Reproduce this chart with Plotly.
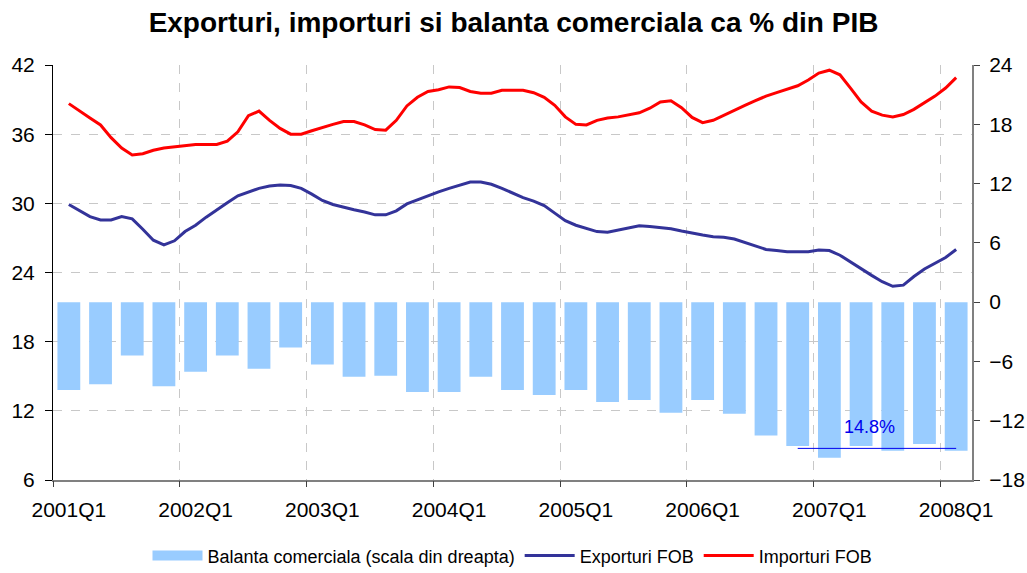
import plotly.graph_objects as go

# Quarterly categories
quarters = [f"{y}Q{q}" for y in range(2001, 2008) for q in range(1, 5)] + ["2008Q1"]
tick_labels = ["2001Q1", "2002Q1", "2003Q1", "2004Q1", "2005Q1", "2006Q1", "2007Q1", "2008Q1"]

# Trade balance (% of GDP, right scale), one bar per quarter
balanta = [-8.9, -8.3, -5.4, -8.5, -7.05, -5.4, -6.75, -4.6,
           -6.3, -7.55, -7.45, -9.1, -9.1, -7.55, -8.9, -9.4,
           -8.9, -10.1, -9.9, -11.2, -9.9, -11.3, -13.5, -14.55,
           -15.75, -14.55, -15.05, -14.35, -15.05]

# Monthly (rolling) series from Jan 2001 to Jan 2008, left scale
exporturi = [29.9, 29.4, 28.85, 28.55, 28.55, 28.85, 28.65, 27.75, 26.8, 26.4,
             26.75, 27.55, 28.1, 28.8, 29.45, 30.05, 30.65, 31.0, 31.3, 31.5,
             31.6, 31.55, 31.3, 30.8, 30.25, 29.9, 29.65, 29.45, 29.25, 29.0,
             29.0, 29.35, 29.95, 30.3, 30.7, 31.0, 31.3, 31.6, 31.85, 31.85,
             31.65, 31.3, 30.9, 30.5, 30.2, 29.8, 29.15, 28.5, 28.1, 27.8,
             27.55, 27.5, 27.7, 27.9, 28.05, 28.0, 27.9, 27.8, 27.6, 27.4,
             27.25, 27.1, 27.05, 26.9, 26.6, 26.35, 26.0, 25.9, 25.8, 25.8,
             25.8, 25.95, 25.9, 25.5, 24.9, 24.3, 23.75, 23.2, 22.8, 22.9,
             23.65, 24.3, 24.8, 25.3, 26.0]
importuri = [38.65, 38.0, 37.4, 36.8, 35.7, 34.8, 34.2, 34.3, 34.6, 34.8,
             34.9, 35.0, 35.1, 35.1, 35.1, 35.4, 36.2, 37.6, 38.0, 37.2,
             36.5, 36.0, 36.0, 36.3, 36.6, 36.85, 37.1, 37.1, 36.8, 36.4,
             36.35, 37.2, 38.45, 39.2, 39.7, 39.85, 40.1, 40.05, 39.7, 39.55,
             39.55, 39.8, 39.8, 39.8, 39.6, 39.2, 38.5, 37.5, 36.85, 36.8,
             37.2, 37.4, 37.5, 37.65, 37.85, 38.25, 38.8, 38.9, 38.3, 37.45,
             37.0, 37.2, 37.65, 38.1, 38.5, 38.9, 39.3, 39.6, 39.9, 40.2,
             40.7, 41.3, 41.55, 41.15, 40.0, 38.8, 38.0, 37.65, 37.5, 37.7,
             38.15, 38.7, 39.3, 40.0, 40.9]

deficit_mark = 14.8          # highlighted deficit level (% of GDP)
mark_from, mark_to = "2006Q4", "2008Q1"

qx = list(range(len(quarters)))
mx = [k / 3 for k in range(len(exporturi))]
x_mark = [quarters.index(mark_from), quarters.index(mark_to)]

FONT = "Liberation Sans, Arial, sans-serif"
BAR_COLOR = "#99CCFF"

fig = go.Figure()
fig.add_trace(go.Bar(
    x=qx, y=balanta, yaxis="y2", name="Balanta comerciala (scala din dreapta)",
    marker=dict(color=BAR_COLOR, line=dict(width=0)), width=0.72,
    hovertext=quarters, showlegend=False))
# legend entry for the bars (wide swatch like the original)
fig.add_trace(go.Scatter(
    x=[None], y=[None], yaxis="y2", mode="lines",
    name="Balanta comerciala (scala din dreapta)",
    line=dict(color=BAR_COLOR, width=16)))
fig.add_trace(go.Scatter(
    x=mx, y=exporturi, mode="lines", name="Exporturi FOB",
    line=dict(color="#333399", width=3)))
fig.add_trace(go.Scatter(
    x=mx, y=importuri, mode="lines", name="Importuri FOB",
    line=dict(color="#FF0000", width=3)))
fig.add_trace(go.Scatter(
    x=x_mark, y=[-deficit_mark] * 2, yaxis="y2", mode="lines",
    line=dict(color="#0000EE", width=1), showlegend=False, hoverinfo="skip"))
# invisible trace to host the boundary axis (ticks + vertical gridlines)
fig.add_trace(go.Scatter(x=[-0.5, 28.5], y=[None, None], xaxis="x2",
                         mode="lines", showlegend=False, hoverinfo="skip"))

fig.add_annotation(
    x=(x_mark[0] + x_mark[1]) / 2 - 0.25, y=-deficit_mark + 2.2, xref="x", yref="y2",
    text=f"{deficit_mark}%", showarrow=False,
    font=dict(family=FONT, size=18, color="#0000EE"))

fig.update_layout(
    width=1027, height=573,
    paper_bgcolor="white", plot_bgcolor="white",
    margin=dict(l=53, r=55, t=65, b=93, autoexpand=False),
    title=dict(text="<b>Exporturi, importuri si balanta comerciala ca % din PIB</b>",
               x=0.5, xanchor="center", y=0.962, yanchor="middle",
               font=dict(family=FONT, size=28, color="black")),
    font=dict(family=FONT, size=21, color="black"),
    showlegend=True,
    legend=dict(orientation="h", x=0.5, xanchor="center", yref="container",
                y=0.03, yanchor="middle", font=dict(family=FONT, size=18),
                itemwidth=50, tracegroupgap=0, traceorder="normal"),
    xaxis=dict(range=[-0.5, 28.5], tickmode="array", automargin=False,
               tickvals=[quarters.index(t) for t in tick_labels], ticktext=tick_labels,
               ticks="", showgrid=False, zeroline=False, ticklabelstandoff=10,
               showline=True, linecolor="#808080", linewidth=2,
               tickfont=dict(family=FONT, size=21)),
    xaxis2=dict(range=[-0.5, 28.5], overlaying="x", anchor="y", side="bottom",
                tickmode="array", automargin=False,
                tickvals=[quarters.index(t) - 0.5 for t in tick_labels],
                showticklabels=False, ticks="outside", ticklen=6, tickcolor="#404040",
                showgrid=True, gridcolor="#C8C8C8", griddash="dash", gridwidth=1,
                zeroline=False, showline=False),
    yaxis=dict(range=[6, 42], dtick=6, tick0=6, ticks="outside", ticklen=7,
               tickcolor="black", showline=True, linecolor="black", linewidth=1,
               ticklabelstandoff=6, automargin=False,
               showgrid=True, gridcolor="#C8C8C8", griddash="dash", gridwidth=1,
               zeroline=False, tickfont=dict(family=FONT, size=21)),
    yaxis2=dict(range=[-18, 24], dtick=6, tick0=0, overlaying="y", side="right",
                ticks="outside", ticklen=6, tickcolor="#404040", ticklabelstandoff=5,
                showline=True, linecolor="#808080", linewidth=2, automargin=False,
                showgrid=False, zeroline=False, tickfont=dict(family=FONT, size=21)),
)

fig.write_html("out.html", config={"displayModeBar": False},
               post_script="document.body.style.margin='0';document.body.style.overflow='hidden';")
